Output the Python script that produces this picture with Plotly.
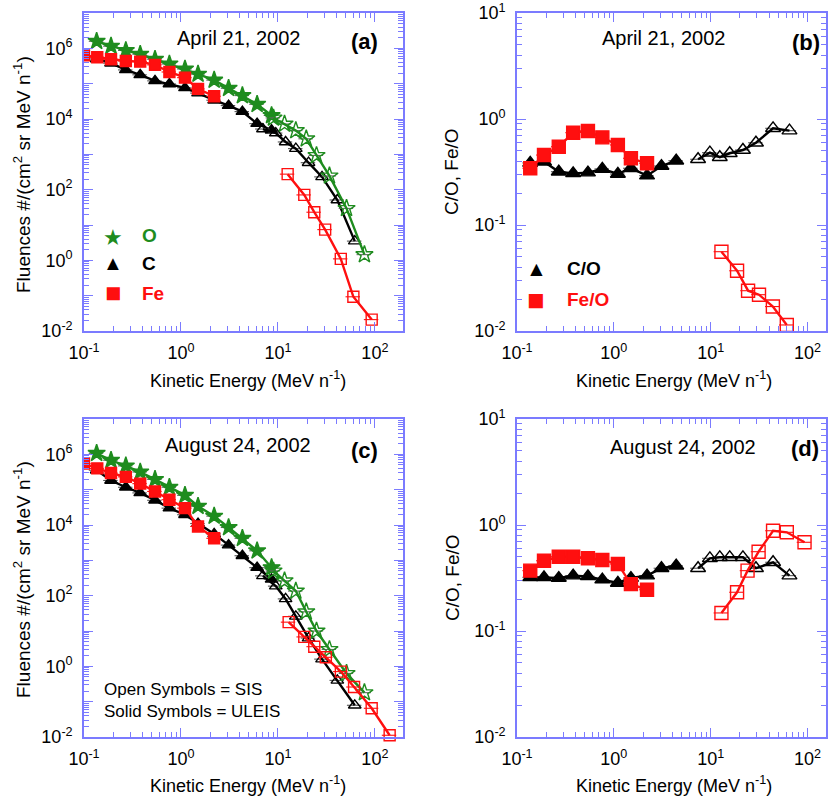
import plotly.graph_objects as go

# ---------------- data ----------------
# energies (MeV/n)
E_ULEIS = [0.135, 0.19, 0.27, 0.38, 0.54, 0.76, 1.1, 1.5, 2.2, 3.1, 4.3, 6.1, 8.6]
E_FE_ULEIS = [0.1, 0.137, 0.19, 0.27, 0.38, 0.54, 0.76, 1.1, 1.5, 2.2]
E_O_SIS = [9, 11.7, 15.3, 19.6, 25, 34, 51, 78]
E_C_SIS = [7, 9.5, 12, 15.3, 20.7, 28.5, 41, 62]
E_FE_SIS_A = [12.6, 18.7, 23.7, 30.7, 44.5, 60, 92.7]
E_FE_SIS_C = [12.9, 18.7, 23.7, 31.2, 44.6, 61, 92.7, 142]
E_RATIO_ULEIS = [0.137, 0.19, 0.27, 0.38, 0.54, 0.76, 1.1, 1.5, 2.2, 3.1, 4.4]
E_FEO_ULEIS = [0.137, 0.19, 0.27, 0.38, 0.54, 0.76, 1.1, 1.5, 2.2]
E_CO_SIS = [7.4, 9.8, 12.4, 15.7, 21.5, 29.3, 44, 65]
E_FEO_SIS_B = [12.9, 18.7, 24.3, 31.5, 43.8, 61]
E_FEO_SIS_D = [12.9, 18.7, 24, 31.2, 44, 61, 93]

# (a) April 21, 2002 fluences
O_ULEIS_A = [1.58e6, 1.15e6, 8.7e5, 6.8e5, 4.9e5, 3.6e5, 2.6e5, 1.86e5, 1.26e5, 7.4e4, 4.6e4, 2.6e4, 1.26e4]
O_SIS_A = [1.07e4, 7.2e3, 4.7e3, 2.75e3, 9.3e2, 2.45e2, 29.5, 1.45]
C_ULEIS_A = [5.0e5, 3.8e5, 2.45e5, 1.78e5, 1.2e5, 9.8e4, 7.6e4, 5.4e4, 3.4e4, 2.4e4, 1.62e4, 7.4e3, 4.8e3]
C_SIS_A = [5.2e3, 4.0e3, 2.24e3, 1.45e3, 5.8e2, 2.3e2, 51, 3.5]
FE_ULEIS_A = [6.3e5, 5.6e5, 4.9e5, 4.4e5, 4.2e5, 3.4e5, 2.14e5, 1.48e5, 7.1e4, 4.4e4]
FE_SIS_A = [275, 71, 23, 7.4, 1.1, 0.093, 0.021]

# (b) April 21, 2002 ratios
CO_ULEIS_B = [0.385, 0.395, 0.318, 0.307, 0.312, 0.338, 0.303, 0.343, 0.292, 0.360, 0.404]
CO_SIS_B = [0.417, 0.481, 0.436, 0.475, 0.510, 0.597, 0.817, 0.776]
FEO_ULEIS_B = [0.343, 0.457, 0.548, 0.743, 0.771, 0.671, 0.569, 0.426, 0.382]
FEO_SIS_B = [0.056, 0.037, 0.024, 0.022, 0.017, 0.0114]

# (c) August 24, 2002 fluences
O_ULEIS_C = [1.07e6, 6.8e5, 4.7e5, 3.16e5, 1.95e5, 1.17e5, 6.9e4, 3.4e4, 1.78e4, 8.5e3, 4.2e3, 1.86e3, 6.2e2]
O_SIS_C = [500, 263, 135, 35, 10, 3.0, 0.63, 0.18]
C_ULEIS_C = [3.55e5, 1.82e5, 1.17e5, 8.1e4, 5.0e4, 3.0e4, 1.95e4, 1.1e4, 5.6e3, 2.7e3, 1.35e3, 6.2e2, 2.9e2]
C_SIS_C = [363, 186, 81, 26, 6.3, 1.6, 0.40, 0.079]
FE_ULEIS_C = [5.5e5, 4.0e5, 2.95e5, 2.3e5, 1.48e5, 8.9e4, 5.2e4, 3.0e4, 9.1e3, 4.2e3]
FE_SIS_C = [17.8, 6.8, 3.6, 1.8, 0.71, 0.26, 0.065, 0.0112]

# (d) August 24, 2002 ratios
CO_ULEIS_D = [0.321, 0.321, 0.316, 0.333, 0.328, 0.305, 0.284, 0.316, 0.333, 0.391, 0.413]
CO_SIS_D = [0.391, 0.485, 0.496, 0.496, 0.496, 0.391, 0.445, 0.333]
FEO_ULEIS_D = [0.371, 0.46, 0.502, 0.502, 0.485, 0.468, 0.429, 0.277, 0.245]
FEO_SIS_D = [0.148, 0.232, 0.371, 0.56, 0.883, 0.853, 0.687]

X_TICKS = [0.1, 1, 10, 100]
X_TICKTEXT = ["10<sup>-1</sup>", "10<sup>0</sup>", "10<sup>1</sup>", "10<sup>2</sup>"]
YF_TICKS = [1e-2, 1e-1, 1, 10, 100, 1e3, 1e4, 1e5, 1e6, 1e7]
YF_TICKTEXT = ["10<sup>-2</sup>", "", "10<sup>0</sup>", "", "10<sup>2</sup>", "", "10<sup>4</sup>", "", "10<sup>6</sup>", ""]
YR_TICKS = [1e-2, 1e-1, 1, 10]
YR_TICKTEXT = ["10<sup>-2</sup>", "10<sup>-1</sup>", "10<sup>0</sup>", "10<sup>1</sup>"]

# ---------------- style ----------------
W, H = 838, 800
FONT = "Liberation Sans, Arial, Helvetica, sans-serif"
AXC = "#7b7bff"
GREEN = "#1e8c1e"
RED = "#ff0f0f"
BLACK = "#000000"

def minor_vals(lo, hi):
    return [m * 10.0 ** d for d in range(lo, hi) for m in range(2, 10)]

def px_x(p):
    return p / W

def px_y(p):
    return 1 - p / H

COL_X = [(84, 403), (517, 826)]
COL_XR = [[-1, 2.29], [-1, 2.19]]
ROW_Y = [(13, 331), (419, 737)]

fig = go.Figure()

def xaxis_dict(col, anchor):
    x0, x1 = COL_X[col]
    return dict(type="log", range=COL_XR[col], domain=[px_x(x0), px_x(x1)], anchor=anchor,
                showline=True, linecolor=AXC, linewidth=1.6, mirror="allticks",
                ticks="inside", ticklen=9, tickwidth=1.3, tickcolor=AXC,
                tickmode="array", tickvals=X_TICKS, ticktext=X_TICKTEXT,
                minor=dict(tickmode="array", tickvals=minor_vals(-1, 3), ticks="inside",
                           ticklen=5, tickwidth=1.1, tickcolor=AXC, showgrid=False),
                showgrid=False, zeroline=False, automargin=False, ticklabelstandoff=5,
                tickfont=dict(family=FONT, size=18, color="black"))

def yaxis_dict(row, anchor, rng, tv, tt, mlo, mhi):
    y0, y1 = ROW_Y[row]
    return dict(type="log", range=rng, domain=[px_y(y1), px_y(y0)], anchor=anchor,
                showline=True, linecolor=AXC, linewidth=1.6, mirror="allticks",
                ticks="inside", ticklen=9, tickwidth=1.3, tickcolor=AXC,
                tickmode="array", tickvals=tv, ticktext=tt,
                minor=dict(tickmode="array", tickvals=minor_vals(mlo, mhi), ticks="inside",
                           ticklen=5, tickwidth=1.1, tickcolor=AXC, showgrid=False),
                showgrid=False, zeroline=False, automargin=False, ticklabelstandoff=6,
                tickfont=dict(family=FONT, size=18, color="black"))

def add(x, y, color, symbol, size, xa, ya, clip=True, ebcolor=None):
    fig.add_trace(go.Scatter(
        x=x, y=y, mode="lines+markers", xaxis=xa, yaxis=ya, cliponaxis=clip,
        line=dict(color=color, width=2.4),
        marker=dict(color=color, symbol=symbol, size=size, line=dict(color=color, width=1.4)),
        error_x=dict(type="percent", value=17, color=ebcolor or color, thickness=1.1, width=0),
        showlegend=False, hoverinfo="skip"))

# (a)
add(E_ULEIS, C_ULEIS_A, BLACK, "triangle-up", 11, "x", "y", ebcolor="#555")
add(E_C_SIS, C_SIS_A, BLACK, "triangle-up-open", 11, "x", "y", ebcolor="#555")
add(E_ULEIS, O_ULEIS_A, GREEN, "star", 13, "x", "y", ebcolor="#666")
add(E_O_SIS, O_SIS_A, GREEN, "star-open", 13, "x", "y", ebcolor="#666")
add(E_FE_ULEIS, FE_ULEIS_A, RED, "square", 11, "x", "y")
add(E_FE_SIS_A, FE_SIS_A, RED, "square-open", 11, "x", "y")

# (b)
add(E_RATIO_ULEIS, CO_ULEIS_B, BLACK, "triangle-up", 13, "x2", "y2", ebcolor="#555")
add(E_CO_SIS, CO_SIS_B, BLACK, "triangle-up-open", 13, "x2", "y2", ebcolor="#555")
add(E_FEO_ULEIS, FEO_ULEIS_B, RED, "square", 13, "x2", "y2")
add(E_FEO_SIS_B, FEO_SIS_B, RED, "square-open", 13, "x2", "y2", clip=False)

# (c)
add(E_ULEIS, C_ULEIS_C, BLACK, "triangle-up", 11, "x3", "y3", ebcolor="#555")
add(E_C_SIS, C_SIS_C, BLACK, "triangle-up-open", 11, "x3", "y3", ebcolor="#555")
add(E_ULEIS, O_ULEIS_C, GREEN, "star", 13, "x3", "y3", ebcolor="#666")
add(E_O_SIS, O_SIS_C, GREEN, "star-open", 13, "x3", "y3", ebcolor="#666")
add(E_FE_ULEIS, FE_ULEIS_C, RED, "square", 11, "x3", "y3")
add(E_FE_SIS_C, FE_SIS_C, RED, "square-open", 11, "x3", "y3", clip=False)

# (d)
add(E_RATIO_ULEIS, CO_ULEIS_D, BLACK, "triangle-up", 13, "x4", "y4", ebcolor="#555")
add(E_CO_SIS, CO_SIS_D, BLACK, "triangle-up-open", 13, "x4", "y4", ebcolor="#555")
add(E_FEO_ULEIS, FEO_ULEIS_D, RED, "square", 13, "x4", "y4")
add(E_FEO_SIS_D, FEO_SIS_D, RED, "square-open", 13, "x4", "y4")

layout = dict(
    width=W, height=H, margin=dict(l=0, r=0, t=0, b=0),
    paper_bgcolor="white", plot_bgcolor="white", showlegend=False,
    font=dict(family=FONT, color="black"),
    xaxis=xaxis_dict(0, "y"),
    yaxis=yaxis_dict(0, "x", [-2, 7], YF_TICKS, YF_TICKTEXT, -2, 7),
    xaxis2=xaxis_dict(1, "y2"),
    yaxis2=yaxis_dict(0, "x2", [-2, 1], YR_TICKS, YR_TICKTEXT, -2, 1),
    xaxis3=xaxis_dict(0, "y3"),
    yaxis3=yaxis_dict(1, "x3", [-2, 7], YF_TICKS, YF_TICKTEXT, -2, 7),
    xaxis4=xaxis_dict(1, "y4"),
    yaxis4=yaxis_dict(1, "x4", [-2, 1], YR_TICKS, YR_TICKTEXT, -2, 1),
)
fig.update_layout(**layout)

ann = []

def text(px, py, s, size, color="black", bold=False, angle=0, xanchor="center"):
    if bold:
        s = "<b>" + s + "</b>"
    ann.append(dict(x=px_x(px), y=px_y(py), xref="paper", yref="paper", text=s,
                    showarrow=False, xanchor=xanchor, yanchor="middle", textangle=angle,
                    font=dict(family=FONT, size=size, color=color)))

XT = "Kinetic Energy (MeV n<sup>-1</sup>)"
YT_F = "Fluences #/(cm<sup>2</sup> sr MeV n<sup>-1</sup>)"
YT_R = "C/O, Fe/O"

# panel titles
text(239, 38, "April 21, 2002", 20)
text(364, 42, "(a)", 22, bold=True)
text(663, 38, "April 21, 2002", 20)
text(806, 43, "(b)", 22, bold=True)
text(238, 445, "August 24, 2002", 20)
text(364, 450, "(c)", 22, bold=True)
text(683, 447, "August 24, 2002", 20)
text(805, 448, "(d)", 22, bold=True)

# axis titles
for cx, cy in [(248, 379), (674, 379), (248, 784), (674, 784)]:
    text(cx, cy, XT, 18)
text(22, 175, YT_F, 19, angle=-90)
text(22, 580, YT_F, 19, angle=-90)
text(452, 172, YT_R, 19, angle=-90)
text(452, 578, YT_R, 19, angle=-90)

# legend (a)
text(113, 237, "\u2605", 22, color=GREEN)
text(140, 236, "O", 19, color=GREEN, bold=True, xanchor="left")
text(113, 263, "\u25B2", 20, color=BLACK)
text(140, 263, "C", 19, color=BLACK, bold=True, xanchor="left")
text(113, 293, "\u25A0", 27, color=RED)
text(140, 293, "Fe", 19, color=RED, bold=True, xanchor="left")

# legend (b)
text(536, 269, "\u25B2", 21, color=BLACK)
text(565, 268, "C/O", 19, color=BLACK, bold=True, xanchor="left")
text(536, 300, "\u25A0", 29, color=RED)
text(565, 299, "Fe/O", 19, color=RED, bold=True, xanchor="left")

# note (c)
text(102, 689, "Open Symbols = SIS", 17, xanchor="left")
text(102, 711, "Solid Symbols = ULEIS", 17, xanchor="left")

fig.update_layout(annotations=ann)
fig.write_html("out.html", config={"displayModeBar": False},
               post_script="document.body.style.margin='0';document.body.style.overflow='hidden';")
